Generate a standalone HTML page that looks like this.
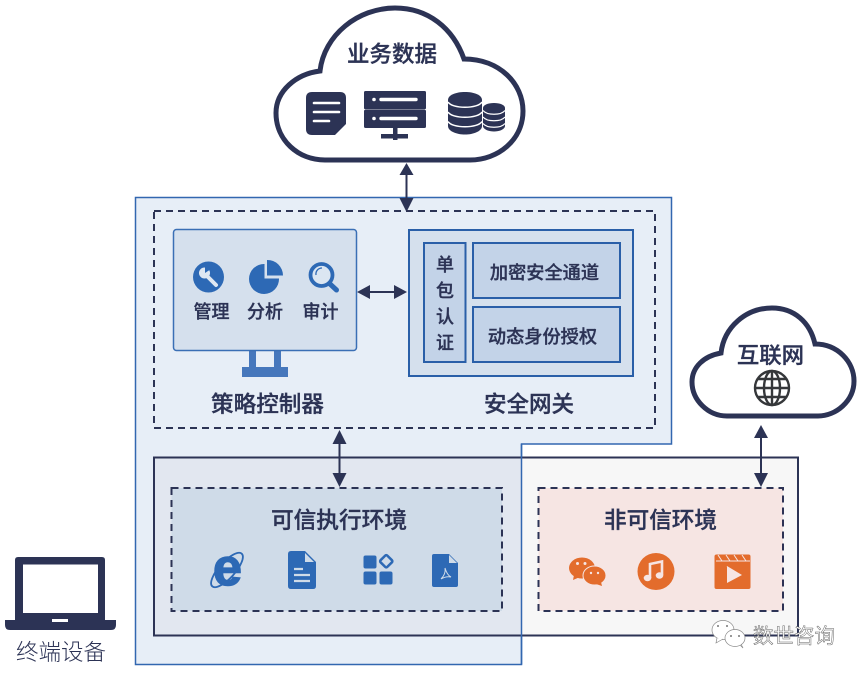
<!DOCTYPE html>
<html><head><meta charset="utf-8"><style>
html,body{margin:0;padding:0;background:#fff}
svg{display:block}
text{font-family:"Liberation Sans","Noto Sans CJK SC",sans-serif;fill:#2c3355;text-anchor:middle}
.b{font-weight:500;stroke:#2c3355;stroke-width:.35}
</style></head><body>
<svg width="863" height="673" viewBox="0 0 863 673" xmlns="http://www.w3.org/2000/svg">
<!-- big blue region -->
<path d="M135.500 197.500H671.500V444H521.500V664.500H135.500Z" fill="#e7eef7" stroke="#3267b0" stroke-width="1.500"/>
<rect x="154" y="211" width="501" height="217" fill="none" stroke="#2c3355" stroke-width="2" stroke-dasharray="7 5"/>
<!-- env box -->
<rect x="154" y="457.500" width="367.500" height="178" fill="#e2e7f0"/>
<rect x="522" y="457.500" width="276" height="178" fill="#f7f7f7"/>
<rect x="154" y="457.500" width="644" height="178" fill="none" stroke="#2c3355" stroke-width="2"/>
<path d="M521.500 444V664.500" stroke="#3267b0" stroke-width="1.500" fill="none"/>
<rect x="171.500" y="488" width="330.500" height="123" fill="#cfdbe8" stroke="#2c3355" stroke-width="2" stroke-dasharray="7 5"/>
<rect x="538.500" y="488" width="244.500" height="123" fill="#f6e5e3" stroke="#2c3355" stroke-width="2" stroke-dasharray="7 5"/>
<!-- clouds -->
<path d="M320 71C324 35 358 8 395 8C428 8 453 28 464 59C500 59 523 84 523 111C523 140 498 160 470 160L325 160C298 160 276 140 276 113C276 91 296 74 320 71Z" fill="#fff" stroke="#2c3355" stroke-width="5"/>
<path d="M721 353C724 327 746 308 772 308C794 308 810 322 815 344C838 344 854 362 854 381C854 401 836 416 818 416L727 416C708 416 692 400 692 382C692 367 704 356 721 353Z" fill="#fff" stroke="#2c3355" stroke-width="5"/>
<text x="392" y="62" font-size="22.500" class="b">业务数据</text>
<text x="770.500" y="363" font-size="22.400" class="b">互联网</text>
<!-- doc icon -->
<path d="M312 92H340Q346 92 346 98V124L335 135H312Q306 135 306 129V98Q306 92 312 92Z" fill="#2c3355"/>
<path d="M314 103H339M314 112H339M314 121H329" stroke="#fff" stroke-width="2.600" stroke-linecap="round"/>
<!-- server -->
<rect x="364" y="91" width="62" height="18.400" rx="1.500" fill="#2c3355"/>
<rect x="364" y="109.800" width="62" height="18.200" rx="1.500" fill="#2c3355"/>
<circle cx="374" cy="99.500" r="1.800" fill="#fff"/><circle cx="374" cy="118.500" r="1.800" fill="#fff"/>
<path d="M381 99.500H416M381 118.500H416" stroke="#fff" stroke-width="3.400" stroke-linecap="round"/>
<rect x="393" y="128" width="4.500" height="12" fill="#2c3355"/>
<rect x="381" y="134" width="27" height="4.500" fill="#2c3355"/>
<!-- databases -->
<path d="M448 100C448 95 456 92 465 92C474 92 482 95 482 100V126C482 131 474 134.500 465 134.500C456 134.500 448 131 448 126Z" fill="#2c3355"/>
<path d="M448 102C452 109 478 109 482 102M448 112C452 119 478 119 482 112M448 121.500C452 128.500 478 128.500 482 121.500" fill="none" stroke="#fff" stroke-width="1.500"/>
<path d="M483 108C483 105 488 103 494 103C500 103 505 105 505 108V126C505 129 500 131.500 494 131.500C488 131.500 483 129 483 126Z" fill="#2c3355"/>
<path d="M483 110.500C487 115.500 501 115.500 505 110.500M483 117C487 122 501 122 505 117M483 123.500C487 128.500 501 128.500 505 123.500" fill="none" stroke="#fff" stroke-width="1.200"/>
<!-- monitor -->
<rect x="249" y="350" width="7" height="18" fill="#4677bc"/>
<rect x="274" y="350" width="7" height="18" fill="#4677bc"/>
<rect x="242" y="367" width="46" height="10" fill="#4677bc"/>
<rect x="173.500" y="229.500" width="183" height="121" rx="3" fill="#d5e0ed" stroke="#3a6fb5" stroke-width="1.500"/>
<!-- wrench -->
<circle cx="208.500" cy="277" r="15.500" fill="#2d69b5"/>
<path d="M205 274L216 285" stroke="#dfe8f2" stroke-width="4" stroke-linecap="round" fill="none"/>
<circle cx="204.500" cy="273" r="5.500" fill="#dfe8f2"/>
<path d="M205 273L205 266.500L211 269Z" fill="#2d69b5"/>
<!-- pie -->
<path d="M265 263V277.500H279.500A15 15 0 1 1 265 263Z" fill="#2d69b5" transform="translate(-.5,1)"/>
<path d="M267 260A15.500 15.500 0 0 1 283 275.500H267Z" fill="#2d69b5"/>
<!-- magnifier -->
<circle cx="321.500" cy="275" r="11" fill="#dbe6f2" stroke="#2d69b5" stroke-width="3.800"/>
<path d="M330 284L336.500 290" stroke="#2d69b5" stroke-width="5" stroke-linecap="round"/>
<path d="M316 275A6 6 0 0 1 322 268" stroke="#2d69b5" stroke-width="1.300" fill="none"/>
<text x="211.500" y="318" font-size="18" class="b">管理</text>
<text x="265" y="318" font-size="18" class="b">分析</text>
<text x="320.500" y="318" font-size="18" class="b">审计</text>
<text x="267.500" y="412" font-size="22.600" class="b">策略控制器</text>
<!-- gateway -->
<rect x="409" y="230" width="224" height="146" fill="#d5e0ed" stroke="#2a5fa8" stroke-width="2"/>
<rect x="424" y="243" width="41.500" height="119" fill="#c3d3e8" stroke="#2a5fa8" stroke-width="2"/>
<rect x="473" y="243" width="147" height="55" fill="#c3d3e8" stroke="#2a5fa8" stroke-width="2"/>
<rect x="473" y="307" width="147" height="55" fill="#c3d3e8" stroke="#2a5fa8" stroke-width="2"/>
<text x="445" y="271" font-size="18" class="b">单</text>
<text x="445" y="297" font-size="18" class="b">包</text>
<text x="445" y="323" font-size="18" class="b">认</text>
<text x="445" y="349" font-size="18" class="b">证</text>
<text x="544.500" y="279" font-size="18.200" class="b">加密安全通道</text>
<text x="542.500" y="343" font-size="18.200" class="b">动态身份授权</text>
<text x="529" y="412" font-size="22.500" class="b">安全网关</text>
<!-- env titles -->
<text x="339" y="528" font-size="22.700" class="b">可信执行环境</text>
<text x="660.500" y="528" font-size="22.600" class="b">非可信环境</text>
<!-- IE -->
<text x="227.500" y="585" font-size="52" font-weight="bold" style="fill:#2d69b5;stroke:#2d69b5;stroke-width:1.500;font-family:'Liberation Sans',sans-serif">e</text>
<ellipse cx="227" cy="570" rx="22" ry="8" fill="none" stroke="#2d69b5" stroke-width="1.800" transform="rotate(-48 227 570)"/>
<!-- doc blue -->
<path d="M291 551H305L316 562V586Q316 589 313 589H291Q288 589 288 586V554Q288 551 291 551Z" fill="#2d69b5"/>
<path d="M305 553L314 562H305Z" fill="#cfdbe8"/>
<path d="M294 569H303M294 575H310M294 581H310" stroke="#cfdbe8" stroke-width="2.200"/>
<!-- widgets -->
<g fill="#2d69b5">
<rect x="363.500" y="555.500" width="13" height="13" rx="2"/>
<rect x="363.500" y="571.500" width="13" height="13" rx="2"/>
<rect x="379.500" y="571.500" width="13" height="13" rx="2"/>
</g>
<rect x="381.500" y="556.500" width="9.500" height="9.500" rx="1.500" fill="none" stroke="#2d69b5" stroke-width="2.500" transform="rotate(45 386.250 561.250)"/>
<!-- pdf -->
<path d="M434 554H449L458 563V585Q458 587 456 587H434Q432 587 432 585V556Q432 554 434 554Z" fill="#2d69b5"/>
<path d="M449 555L457 563H449Z" fill="#cfdbe8"/>
<path d="M441 579Q446 574 445 568Q447 575 451 577Q446 576 441 579Z" fill="none" stroke="#cfdbe8" stroke-width="1"/>
<!-- wechat -->
<ellipse cx="582" cy="568" rx="13" ry="10.500" fill="#e36c2c"/>
<path d="M574 575L573 580L580 577Z" fill="#e36c2c"/>
<ellipse cx="594.500" cy="575.500" rx="11.500" ry="9.500" fill="#e36c2c" stroke="#f6e5e3" stroke-width="1"/>
<path d="M601 582L602 586L596 584Z" fill="#e36c2c"/>
<circle cx="577.500" cy="563.500" r="1.500" fill="#f6e5e3"/><circle cx="585" cy="563.500" r="1.500" fill="#f6e5e3"/>
<circle cx="591" cy="573" r="1.200" fill="#f6e5e3"/><circle cx="598" cy="573" r="1.200" fill="#f6e5e3"/>
<!-- music -->
<circle cx="656" cy="571.500" r="18.500" fill="#e36c2c"/>
<path d="M650 578V564L662 561.500V575" stroke="#f6e5e3" stroke-width="2.600" fill="none"/>
<ellipse cx="647.500" cy="578" rx="3.800" ry="3.200" fill="#f6e5e3"/>
<ellipse cx="659.500" cy="575.500" rx="3.800" ry="3.200" fill="#f6e5e3"/>
<!-- film -->
<rect x="714.500" y="554.500" width="36" height="34.500" rx="2" fill="#e36c2c"/>
<path d="M716 561H750" stroke="#f6e5e3" stroke-width="1"/>
<path d="M718 555L722 561M726 555L730 561M734 555L738 561M742 555L746 561" stroke="#f6e5e3" stroke-width="1"/>
<path d="M727 566.500Q726 566 727 566L742 575L727 583Z" fill="#f6e5e3"/>
<!-- globe -->
<g fill="none" stroke="#35373a" stroke-width="2.400">
<circle cx="772" cy="388" r="17"/>
<ellipse cx="772" cy="388" rx="8" ry="17"/>
<path d="M772 371V405M755 388H789M758 379H786M758 397H786"/>
</g>
<!-- laptop -->
<path d="M18 557H102Q105 557 105 560V621H15V560Q15 557 18 557Z" fill="#2c3355"/>
<rect x="23" y="564.500" width="75" height="48.500" fill="#fff"/>
<path d="M5 620H116V625Q116 630 111 630H10Q5 630 5 625Z" fill="#2c3355"/>
<rect x="52" y="619" width="16" height="3" fill="#fff"/>
<text x="61" y="660" font-size="22.500" style="font-weight:300">终端设备</text>
<!-- arrows -->
<g stroke="#2c3355" stroke-width="2" fill="#2c3355">
<path d="M406.500 170V202" fill="none"/>
<path d="M406.500 163L413.500 175H399.500Z" stroke="none"/>
<path d="M406.500 212L413.500 198H399.500Z" stroke="none"/>
<path d="M365 292H398" fill="none"/>
<path d="M357 292L370 285V299Z" stroke="none"/>
<path d="M407 292L394 285V299Z" stroke="none"/>
<path d="M339.500 438V478" fill="none"/>
<path d="M339.500 430L346.500 444H332.500Z" stroke="none"/>
<path d="M339.500 487L346.500 473H332.500Z" stroke="none"/>
<path d="M761 433V478" fill="none"/>
<path d="M761 425L768 438H754Z" stroke="none"/>
<path d="M761 487L768 473H754Z" stroke="none"/>
</g>
<!-- watermark -->
<g fill="#fff" stroke="#8a8a8a" stroke-width=".7">
<ellipse cx="723" cy="630" rx="11" ry="9.500"/>
<path d="M717 638L716 643L723 639"/>
<ellipse cx="735" cy="638" rx="10" ry="8.500"/>
<path d="M740 645L743 648L741 644"/>
</g>
<circle cx="718" cy="626" r="1" fill="#777"/><circle cx="727" cy="626" r="1" fill="#777"/>
<circle cx="731" cy="636" r="1" fill="#777"/><circle cx="739" cy="636" r="1" fill="#777"/>
<text x="794" y="643" font-size="20.500" style="fill:#fff;stroke:#666;stroke-width:.5">数世咨询</text>
</svg>
</body></html>
